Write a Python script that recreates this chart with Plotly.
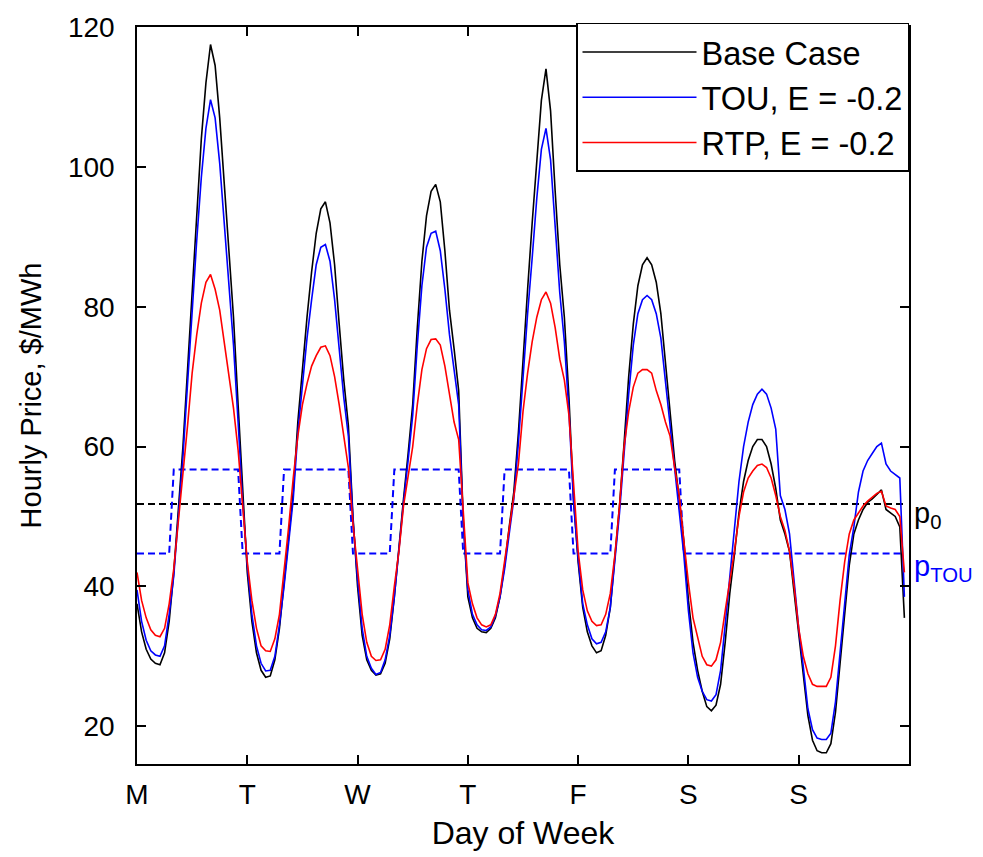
import plotly.graph_objects as go

hours = list(range(168))
day_ticks = [0, 24, 48, 72, 96, 120, 144]
day_labels = ["M", "T", "W", "T", "F", "S", "S"]
y_ticks = [20, 40, 60, 80, 100, 120]

base_case = [
    37.5, 33.5, 31.0, 29.6, 29.0, 28.8, 30.5, 35.0, 42.0, 50.5, 60.0, 71.0, 82.5, 94.0, 104.0, 112.0, 117.5, 114.5, 107.0, 97.5, 88.0, 78.5, 66.0, 53.0,
    42.0, 35.0, 30.5, 28.0, 27.0, 27.2, 29.5, 34.0, 40.5, 47.0, 53.5, 63.5, 71.5, 78.5, 85.0, 90.5, 94.0, 95.0, 92.0, 86.0, 77.5, 69.5, 63.0, 50.0,
    40.0, 33.0, 29.5, 28.0, 27.3, 27.5, 29.0, 32.5, 38.5, 46.0, 52.5, 59.0, 66.0, 77.0, 86.5, 93.0, 96.5, 97.5, 95.0, 88.0, 79.5, 74.0, 68.0, 49.5,
    38.5, 35.5, 34.0, 33.5, 33.4, 34.0, 35.5, 38.5, 43.0, 48.5, 53.5, 62.0, 73.0, 82.5, 92.0, 101.5, 109.5, 114.0, 108.0, 96.5, 86.0, 78.5, 67.0, 52.5,
    43.5, 37.0, 33.5, 31.5, 30.5, 30.8, 33.0, 37.0, 44.0, 51.5, 60.5, 70.0, 77.5, 83.0, 86.0, 87.0, 86.0, 83.5, 79.0, 72.0, 64.0, 58.0, 52.5, 46.5,
    38.0, 32.0, 28.0, 25.0, 22.8, 22.2, 23.0, 26.0, 32.0, 39.0, 44.5, 50.5, 55.0, 58.0, 60.0, 61.0, 61.0, 60.0, 57.5, 54.0, 49.5, 47.5, 45.0, 39.0,
    33.0, 27.0, 21.5, 18.0, 16.5, 16.2, 16.2, 17.5, 22.0, 29.0, 36.5, 43.0, 47.5, 49.5, 51.0, 52.0, 52.5, 53.2, 53.8, 51.0, 50.5, 50.0, 48.5, 35.5,
]

tou_case = [
    39.5, 35.0, 32.3, 30.8, 30.2, 30.0, 31.5, 36.0, 41.5, 49.5, 58.5, 69.0, 79.5, 89.5, 98.5, 105.5, 109.6, 107.0, 100.5, 92.0, 83.0, 74.5, 63.5, 52.0,
    43.0, 36.0, 31.5, 29.0, 27.9, 28.0, 30.0, 34.5, 40.0, 46.0, 52.5, 62.0, 69.0, 75.5, 81.0, 86.0, 88.5, 88.9, 86.5, 81.0, 74.0, 67.0, 61.5, 49.5,
    41.0, 34.0, 30.0, 28.3, 27.4, 27.7, 29.5, 33.0, 38.5, 45.5, 52.0, 58.0, 64.5, 74.5, 83.0, 88.5, 90.5, 90.8, 88.0, 82.5, 76.0, 71.0, 66.0, 49.0,
    39.5, 36.0, 34.5, 33.8, 33.7, 34.2, 35.8, 38.5, 42.5, 47.5, 52.5, 60.5, 70.5, 79.0, 87.0, 95.5, 102.5, 105.5, 101.0, 91.5, 82.0, 75.0, 65.0, 52.0,
    44.0, 37.5, 34.5, 32.5, 31.8, 32.0, 33.5, 37.0, 43.5, 50.5, 59.0, 67.5, 74.5, 79.0, 81.0, 81.6, 81.0, 79.0, 75.5, 69.5, 62.5, 57.0, 51.0, 44.5,
    36.5, 30.5, 27.0, 25.0, 23.8, 23.6, 24.5, 28.0, 34.5, 41.5, 48.0, 55.0, 60.0, 63.5, 66.0, 67.5, 68.2, 67.5, 65.5, 62.5, 53.0, 51.0, 47.5, 40.5,
    34.0, 28.5, 22.5, 19.5, 18.3, 18.1, 18.1, 19.0, 23.5, 30.5, 38.0, 44.5, 48.5, 53.5, 56.5, 58.0, 59.0, 60.0, 60.5, 57.5, 56.5, 56.0, 55.5, 38.5,
]

rtp_case = [
    42.0, 38.0, 35.5, 33.8, 33.0, 32.8, 34.0, 37.5, 42.5, 49.0, 55.5, 63.0, 70.5, 76.0, 80.5, 83.5, 84.6, 82.5, 79.5, 75.0, 70.0, 65.5, 59.5, 51.0,
    43.5, 38.0, 34.0, 31.5, 30.8, 30.7, 32.5, 36.0, 42.0, 48.5, 55.5, 61.5, 66.0, 69.0, 71.5, 73.0, 74.2, 74.4, 73.0, 70.0, 66.0, 61.5, 57.0, 49.0,
    42.0, 36.0, 32.0, 30.0, 29.4, 29.5, 31.0, 34.5, 40.0, 45.0, 51.5, 55.5, 60.0, 66.0, 71.0, 74.0, 75.3, 75.4, 74.5, 71.5, 67.5, 63.5, 61.0, 50.5,
    40.5, 37.5, 35.5, 34.5, 34.2, 34.5, 36.0, 39.0, 43.5, 48.5, 53.0, 57.5, 65.0, 70.5, 75.0, 78.5, 81.0, 82.1, 80.5, 77.0, 72.5, 69.5, 64.5, 55.0,
    45.0, 39.5, 36.5, 35.0, 34.4, 34.5, 36.0, 39.0, 44.5, 51.5, 60.0, 65.0, 68.5, 70.5, 71.0, 71.0, 70.5, 68.0, 66.0, 63.5, 61.5, 57.0, 53.0, 46.5,
    40.5, 35.5, 32.5, 30.0, 28.8, 28.6, 29.5, 32.0, 36.5, 40.5, 45.0, 50.0, 53.5, 55.5, 56.5, 57.3, 57.5, 57.0, 55.5, 53.0, 50.0, 48.0, 45.0, 40.0,
    34.0, 30.0, 27.5, 26.0, 25.7, 25.7, 25.7, 27.0, 31.5, 38.0, 43.5, 47.5, 49.5, 50.5, 51.5, 52.2, 52.8, 53.3, 53.6, 51.5, 51.2, 51.0, 50.0, 42.0,
]

p0_price = 51.8
tou_weekday = [44.7] * 8 + [56.7] * 15 + [44.7]
tou_weekend = [44.7] * 24
tou_price = tou_weekday * 5 + tou_weekend * 2

FONT = "Liberation Sans, Arial, Helvetica, sans-serif"

fig = go.Figure()
fig.add_trace(go.Scatter(x=hours, y=[p0_price] * len(hours), mode="lines",
                         line=dict(color="black", width=2, dash="7px,4px"),
                         showlegend=False, hoverinfo="skip"))
fig.add_trace(go.Scatter(x=hours, y=tou_price, mode="lines",
                         line=dict(color="#0000ff", width=2, dash="7px,4px"),
                         showlegend=False, hoverinfo="skip"))
fig.add_trace(go.Scatter(x=hours, y=base_case, mode="lines", name="Base Case",
                         line=dict(color="black", width=1.6)))
fig.add_trace(go.Scatter(x=hours, y=tou_case, mode="lines", name="TOU, E = -0.2",
                         line=dict(color="#0000ff", width=1.6)))
fig.add_trace(go.Scatter(x=hours, y=rtp_case, mode="lines", name="RTP, E = -0.2",
                         line=dict(color="#ff0000", width=1.6)))

fig.update_layout(
    width=983, height=857,
    margin=dict(l=137, r=74, t=25, b=92),
    paper_bgcolor="white", plot_bgcolor="white",
    font=dict(family=FONT, size=28, color="black"),
    legend=dict(x=1, xanchor="right", y=1.0055, yanchor="top",
                bgcolor="white", bordercolor="black", borderwidth=1.5,
                font=dict(family=FONT, size=32.5, color="black"),
                itemwidth=114, tracegroupgap=0),
    xaxis=dict(range=[0, 168], tickmode="array", tickvals=day_ticks, ticktext=day_labels,
               ticks="inside", ticklen=9, tickwidth=1.5, tickcolor="black",
               showline=True, linecolor="black", linewidth=1.5, mirror="ticks",
               showgrid=False, zeroline=False, ticklabelstandoff=5,
               title=dict(text="Day of Week", font=dict(family=FONT, size=32), standoff=12),
               tickfont=dict(family=FONT, size=28)),
    yaxis=dict(range=[14.6, 120], tickmode="array", tickvals=y_ticks,
               ticks="inside", ticklen=9, tickwidth=1.5, tickcolor="black",
               showline=True, linecolor="black", linewidth=1.5, mirror="ticks",
               showgrid=False, zeroline=False, ticklabelstandoff=15,
               title=dict(text="Hourly Price, $/MWh", font=dict(family=FONT, size=29), standoff=18),
               tickfont=dict(family=FONT, size=28)),
    annotations=[
        dict(x=1, xref="paper", y=p0_price, yref="y", xanchor="left", yanchor="top",
             xshift=3, yshift=9, showarrow=False, text="p<sub>0</sub>",
             font=dict(family=FONT, size=29, color="black")),
        dict(x=1, xref="paper", y=44.7, yref="y", xanchor="left", yanchor="top",
             xshift=3, yshift=6, showarrow=False, text="p<sub>TOU</sub>",
             font=dict(family=FONT, size=29, color="#0000ff")),
    ],
)

fig.write_html("out.html")
